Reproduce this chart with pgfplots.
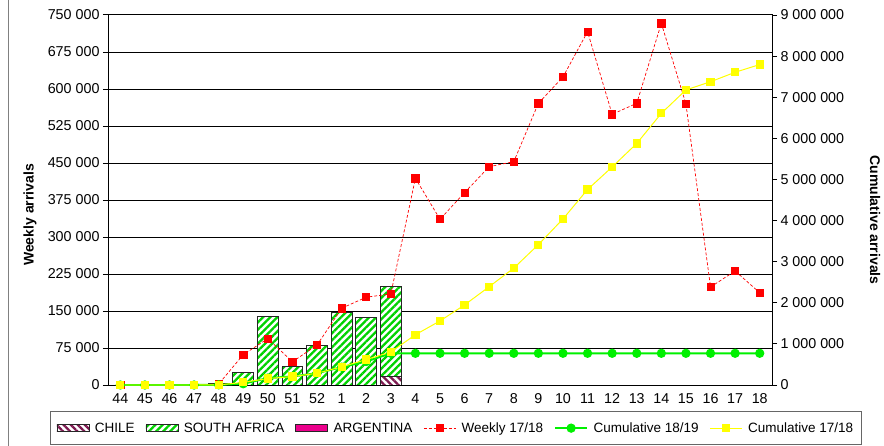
\documentclass[border=0pt]{standalone}
\usepackage{fontspec}
\setmainfont{Liberation Sans}
\usepackage{pgfplots}
\usepackage{pgfplotstable}
\pgfplotsset{compat=1.18}
\usetikzlibrary{patterns.meta}

\definecolor{sagreen}{RGB}{0,210,0}
\definecolor{chilec}{RGB}{125,25,80}
\definecolor{linegreen}{RGB}{0,240,0}
\definecolor{lineyellow}{RGB}{255,255,0}

\tikzset{
  sastyle/.style={draw=black!85, line width=0.8pt, preaction={fill=white},
     pattern={Lines[angle=45,distance=5bp,line width=2.3bp]}, pattern color=sagreen},
  chstyle/.style={draw=black!85, line width=0.8pt, preaction={fill=white},
     pattern={Lines[angle=-45,distance=5bp,line width=2.3bp]}, pattern color=chilec},
  arstyle/.style={draw=black!85, line width=0.8pt, fill=magenta},
  weeklystyle/.style={red, line width=0.7pt, densely dashed, mark=square*, mark size=3.6bp,
     mark options={solid, fill=red, draw=red}},
  c1819style/.style={linegreen, line width=2pt, mark=*, mark size=3.6bp,
     mark options={solid, fill=linegreen, draw=linegreen}},
  c1718style/.style={lineyellow, line width=1pt, mark=square*, mark size=3.6bp,
     mark options={solid, fill=lineyellow, draw=lineyellow}},
}
\pgfplotsset{
  barlegend/.style={legend image code/.code={\draw[##1] (0bp,-3.5bp) rectangle (32bp,3.5bp);}},
  linelegend/.style={legend image code/.code={\draw[mark repeat=2,mark phase=2,##1] plot coordinates {(0bp,0bp) (16bp,0bp) (32bp,0bp)};}},
}

% bars (weeks 48..3 -> index 4..11)
\pgfplotstableread{
x chile sa
4 0 4000
5 0 26000
6 0 139000
7 0 38000
8 0 80500
9 0 147000
10 0 137000
11 18000 182000
}\bars

\pgfplotstableread{
x weekly cum1819 cum1718
0 0 0 0
1 0 0 0
2 0 0 0
3 0 0 0
4 2000 4000 2000
5 61500 30000 63500
6 94000 169000 157500
7 47000 207000 204500
8 81000 287500 285500
9 155500 434500 441000
10 178000 571500 619000
11 184500 771500 803500
12 419000 771500 1222500
13 336000 771500 1558500
14 390000 771500 1948500
15 442500 771500 2391000
16 452700 771500 2843700
17 571000 771500 3414700
18 624300 771500 4039000
19 716200 771500 4755200
20 548700 771500 5303900
21 571000 771500 5874900
22 733200 771500 6608100
23 569600 771500 7177700
24 198600 771500 7376300
25 231100 771500 7607400
26 187100 771500 7794500
}\lines

\pgfplotsset{
  common/.style={
    at={(108bp,61bp)}, anchor=south west,
    scale only axis, width=664bp, height=370bp,
    xmin=-0.5, xmax=26.5,
  },
}

\begin{document}
\begin{tikzpicture}
\useasboundingbox (0,0) rectangle (884bp,446bp);
\draw[gray, line width=1pt] (8bp,0) -- (8bp,446bp);

% Axis 1: bars
\begin{axis}[common,
  ymin=0, ymax=750000,
  ybar stacked, bar width=0.85,
  axis line style={black, line width=1pt},
  ymajorgrids, grid style={black, line width=1pt},
  ytick={0,75000,150000,225000,300000,375000,450000,525000,600000,675000,750000},
  yticklabels={0,{75 000},{150 000},{225 000},{300 000},{375 000},{450 000},{525 000},{600 000},{675 000},{750 000}},
  scaled y ticks=false,
  xtick={0,...,26},
  xticklabels={44,45,46,47,48,49,50,51,52,1,2,3,4,5,6,7,8,9,10,11,12,13,14,15,16,17,18},
  xtick style={draw=none},
  minor xtick={-0.5,0.5,...,26.5},
  minor x tick style={black, line width=1pt},
  ytick style={black, line width=1pt},
  tick align=outside, major tick length=5bp, minor tick length=5bp,
  ytick pos=left, xtick pos=bottom,
  tick label style={font=\fontsize{14.3bp}{16bp}\selectfont},
  /pgf/number format/assume math mode=true,
]
\addplot[chstyle] table[x=x, y=chile] {\bars};
\addplot[sastyle] table[x=x, y=sa] {\bars};
\end{axis}

% Axis 2: weekly line
\begin{axis}[common, ymin=0, ymax=750000, hide axis, clip=false]
\addplot[weeklystyle] table[x=x, y=weekly] {\lines};
\end{axis}

% Axis 3: cumulative
\begin{axis}[common, ymin=0, ymax=9000000, clip=false,
  axis x line=none, axis y line*=right,
  axis line style={black, line width=1pt},
  ytick={0,1000000,2000000,3000000,4000000,5000000,6000000,7000000,8000000,9000000},
  yticklabels={0,{1 000 000},{2 000 000},{3 000 000},{4 000 000},{5 000 000},{6 000 000},{7 000 000},{8 000 000},{9 000 000}},
  scaled y ticks=false,
  ytick style={black, line width=1pt},
  tick align=outside, major tick length=5bp,
  tick label style={font=\fontsize{14.3bp}{16bp}\selectfont},
  /pgf/number format/assume math mode=true,
  legend columns=6,
  linelegend,
  legend style={at={(-0.0873,-0.0703)}, anchor=north west,
    draw=black!60, line width=1pt, inner xsep=6bp, inner ysep=9bp,
    font=\fontsize{13.5bp}{16bp}\selectfont,
    /tikz/every odd column/.append style={column sep=3.5bp},
    /tikz/every even column/.append style={column sep=9bp},
    cells={anchor=west}},
]
\addlegendimage{chstyle, barlegend}
\addlegendentry{CHILE}
\addlegendimage{sastyle, barlegend}
\addlegendentry{SOUTH AFRICA}
\addlegendimage{arstyle, barlegend}
\addlegendentry{ARGENTINA}
\addlegendimage{weeklystyle}
\addlegendentry{Weekly 17/18}
\addplot[c1819style] table[x=x, y=cum1819] {\lines};
\addlegendentry{Cumulative 18/19}
\addplot[c1718style] table[x=x, y=cum1718] {\lines};
\addlegendentry{Cumulative 17/18}
\end{axis}

\node[rotate=90, font=\bfseries\fontsize{14bp}{16bp}\selectfont] at (30bp,231bp) {Weekly arrivals};
\node[rotate=-90, font=\bfseries\fontsize{14bp}{16bp}\selectfont] at (875bp,226bp) {Cumulative arrivals};
\end{tikzpicture}
\end{document}
